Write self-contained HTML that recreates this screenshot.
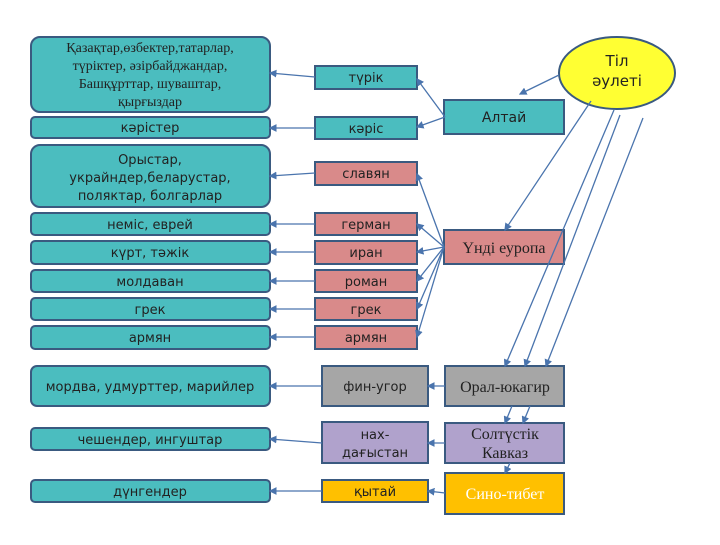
<!DOCTYPE html>
<html><head><meta charset="utf-8"><style>
body{margin:0;width:720px;height:540px;background:#fff;overflow:hidden}
svg text{font-family:"DejaVu Sans","Liberation Sans",sans-serif;font-size:13px;fill:#222;text-anchor:middle}
.s{font-family:"Liberation Serif",serif;font-size:16px}
</style></head><body>
<svg width="720" height="540" viewBox="0 0 720 540">
<defs><marker id="a" markerWidth="6" markerHeight="6" refX="5" refY="3" orient="auto"><path d="M0,0L6,3L0,6z" fill="#4a74ad"/></marker></defs>
<g fill="#4bbdbf" stroke="#3a5a80" stroke-width="2">
<rect x="31" y="37" width="239" height="75" rx="9"/>
<rect x="31" y="117" width="239" height="21" rx="4"/>
<rect x="31" y="145" width="239" height="62" rx="9"/>
<rect x="31" y="213" width="239" height="22" rx="4"/>
<rect x="31" y="241" width="239" height="23" rx="4"/>
<rect x="31" y="270" width="239" height="22" rx="4"/>
<rect x="31" y="298" width="239" height="22" rx="4"/>
<rect x="31" y="326" width="239" height="23" rx="4"/>
<rect x="31" y="366" width="239" height="40" rx="6"/>
<rect x="31" y="428" width="239" height="22" rx="4"/>
<rect x="31" y="480" width="239" height="22" rx="4"/>
<rect x="315" y="66" width="102" height="23"/>
<rect x="315" y="117" width="102" height="22"/>
<rect x="444" y="100" width="120" height="34"/>
</g>
<g fill="#d98a8a" stroke="#3a5a80" stroke-width="2">
<rect x="315" y="162" width="102" height="23"/>
<rect x="315" y="213" width="102" height="22"/>
<rect x="315" y="241" width="102" height="23"/>
<rect x="315" y="270" width="102" height="22"/>
<rect x="315" y="298" width="102" height="22"/>
<rect x="315" y="326" width="102" height="23"/>
<rect x="444" y="230" width="120" height="34"/>
</g>
<rect x="322" y="366" width="106" height="40" fill="#a6a6a6" stroke="#3a5a80" stroke-width="2"/>
<rect x="445" y="366" width="119" height="40" fill="#a6a6a6" stroke="#3a5a80" stroke-width="2"/>
<rect x="322" y="422" width="106" height="41" fill="#b0a2cc" stroke="#3a5a80" stroke-width="2"/>
<rect x="445" y="423" width="119" height="40" fill="#b0a2cc" stroke="#3a5a80" stroke-width="2"/>
<rect x="322" y="480" width="106" height="22" fill="#ffc000" stroke="#3a5a80" stroke-width="2"/>
<rect x="445" y="473" width="119" height="41" fill="#ffc000" stroke="#3a5a80" stroke-width="2"/>
<ellipse cx="617" cy="73" rx="58" ry="36" fill="#ffff33" stroke="#3a5a80" stroke-width="2"/>
<g stroke="#4a74ad" stroke-width="1.3" fill="none" marker-end="url(#a)">
<line x1="315" y1="77" x2="270" y2="73"/>
<line x1="315" y1="128" x2="270" y2="128"/>
<line x1="315" y1="173" x2="270" y2="176"/>
<line x1="315" y1="224" x2="270" y2="224"/>
<line x1="315" y1="252" x2="270" y2="252"/>
<line x1="315" y1="281" x2="270" y2="281"/>
<line x1="315" y1="309" x2="270" y2="309"/>
<line x1="315" y1="337" x2="270" y2="337"/>
<line x1="322" y1="386" x2="270" y2="386"/>
<line x1="322" y1="443" x2="270" y2="439"/>
<line x1="322" y1="491" x2="270" y2="491"/>
<line x1="445" y1="386" x2="428" y2="386"/>
<line x1="445" y1="443" x2="428" y2="443"/>
<line x1="445" y1="493" x2="428" y2="491"/>
<line x1="445" y1="117" x2="417" y2="79"/>
<line x1="445" y1="117" x2="417" y2="127"/>
<line x1="444" y1="247" x2="417" y2="174"/>
<line x1="444" y1="247" x2="417" y2="224"/>
<line x1="444" y1="247" x2="417" y2="252"/>
<line x1="444" y1="247" x2="417" y2="281"/>
<line x1="444" y1="247" x2="417" y2="309"/>
<line x1="444" y1="247" x2="417" y2="337"/>
<line x1="559" y1="75" x2="520" y2="94"/>
<line x1="591" y1="101" x2="505" y2="230"/>
<line x1="614" y1="110" x2="505" y2="366"/>
<line x1="620" y1="115" x2="525" y2="366"/>
<line x1="643" y1="118" x2="546" y2="366"/>
<line x1="512" y1="406" x2="505" y2="423"/>
<line x1="530" y1="406" x2="523" y2="423"/>
<line x1="510" y1="463" x2="505" y2="473"/>
</g>
<text x="150" y="52" class="s" style="font-size:14px">Қазақтар,өзбектер,татарлар,</text>
<text x="150" y="70" class="s" style="font-size:14px">түріктер, әзірбайджандар,</text>
<text x="150" y="88" class="s" style="font-size:14px">Башқұрттар, шуваштар,</text>
<text x="150" y="106" class="s" style="font-size:14px">қырғыздар</text>
<text x="150" y="132">кәрістер</text>
<text x="150" y="164">Орыстар,</text>
<text x="150" y="182">украйндер,беларустар,</text>
<text x="150" y="200">поляктар, болгарлар</text>
<text x="150" y="229">неміс, еврей</text>
<text x="150" y="257">күрт, тәжік</text>
<text x="150" y="286">молдаван</text>
<text x="150" y="314">грек</text>
<text x="150" y="342">армян</text>
<text x="150" y="391">мордва, удмурттер, марийлер</text>
<text x="150" y="444">чешендер, ингуштар</text>
<text x="150" y="496">дүнгендер</text>
<text x="366" y="82">түрік</text>
<text x="366" y="133">кәріс</text>
<text x="366" y="178">славян</text>
<text x="366" y="229">герман</text>
<text x="366" y="257">иран</text>
<text x="366" y="286">роман</text>
<text x="366" y="314">грек</text>
<text x="366" y="342">армян</text>
<text x="375" y="391">фин-угор</text>
<text x="375" y="439">нах-</text>
<text x="375" y="457">дағыстан</text>
<text x="375" y="496">қытай</text>
<text x="504" y="122" style="font-size:14px">Алтай</text>
<text x="504" y="253" class="s">Үнді еуропа</text>
<text x="505" y="392" class="s">Орал-юкагир</text>
<text x="505" y="439" class="s">Солтүстік</text>
<text x="505" y="458" class="s">Кавказ</text>
<text x="505" y="499" class="s" style="fill:#fff">Сино-тибет</text>
<text x="617" y="66" style="font-size:15px">Тіл</text>
<text x="617" y="86" style="font-size:15px">әулеті</text>
</svg>
</body></html>
